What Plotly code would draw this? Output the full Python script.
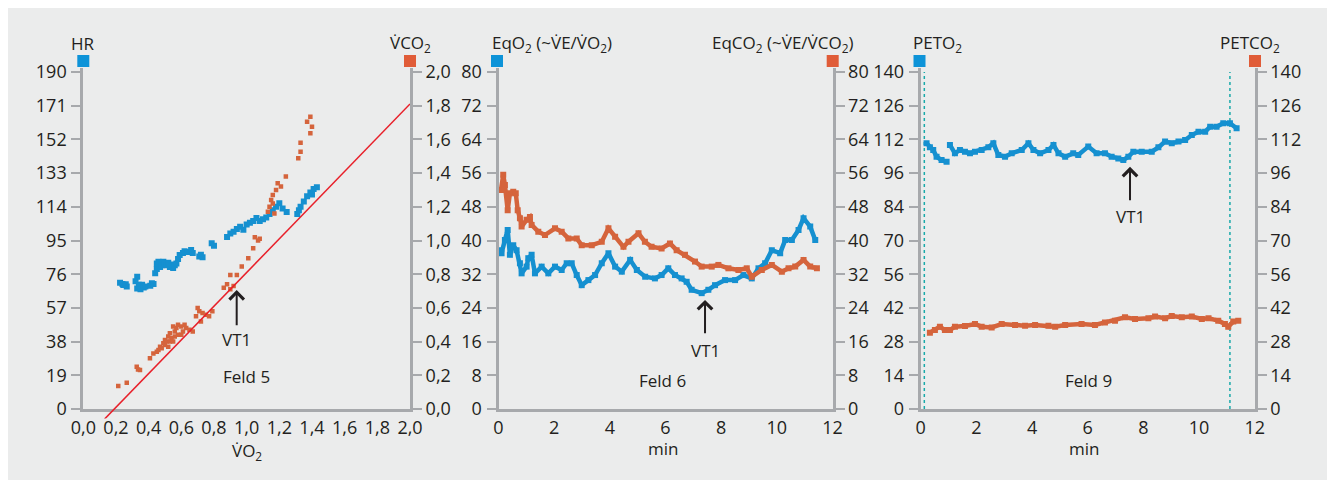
import plotly.graph_objects as go

# page offset of the figure inside the browser window (body margin)
OFF = 8
W, H = 1335 - OFF, 486 - OFF

# ---------------- data ----------------
# Panel 1 (Feld 5): HR vs VO2 and VCO2 vs VO2
hr_vo2 = [0.225, 0.245, 0.266, 0.24, 0.26,
          0.32, 0.33, 0.34, 0.33, 0.35, 0.36, 0.37, 0.38,
          0.42, 0.41, 0.43,
          0.44, 0.45, 0.45, 0.46, 0.47, 0.48, 0.49, 0.50, 0.51, 0.52, 0.53, 0.54, 0.55, 0.56, 0.57, 0.58,
          0.59, 0.61, 0.62, 0.64, 0.66, 0.67,
          0.71, 0.72, 0.73,
          0.786, 0.80,
          0.88, 0.90, 0.92, 0.94, 0.96, 0.98,
          1.00, 1.02, 1.04, 1.06, 1.08, 1.10,
          1.12, 1.14, 1.16, 1.18, 1.20, 1.22, 1.245,
          1.31, 1.32, 1.33, 1.35, 1.37, 1.39, 1.41, 1.43, 1.40]
hr_vals = [71.2, 69.9, 69.0, 70.5, 70.3,
           72.0, 74.6, 70.0, 68.0, 67.5, 70.0, 68.5, 69.0,
           70.9, 69.5, 70.5,
           76.5, 79.0, 82.0, 83.0, 80.0, 81.0, 83.0, 82.0, 81.0, 82.5, 80.0, 81.5, 79.5, 81.0, 82.0, 84.5,
           86.8, 88.0, 89.0, 88.5, 89.6, 88.0,
           86.0, 87.0, 85.5,
           93.4, 92.0,
           97.0, 99.0, 100.0, 101.5, 102.8, 101.0,
           104.0, 105.0, 106.0, 107.7, 106.0, 107.0,
           108.0, 110.0, 112.0, 114.0, 116.0, 113.0, 111.0,
           110.0, 112.0, 114.0, 117.0, 120.0, 122.0, 124.0, 125.0, 121.0]

vco2_vo2 = [0.214, 0.266, 0.327, 0.347, 0.335, 0.408, 0.429,
            0.45, 0.46, 0.47, 0.48, 0.49, 0.50, 0.50, 0.51, 0.52, 0.52, 0.53, 0.54, 0.55, 0.55,
            0.56, 0.57, 0.58, 0.58, 0.60, 0.61, 0.62, 0.63, 0.65, 0.67, 0.53, 0.56, 0.60,
            0.69, 0.70, 0.71, 0.72, 0.73, 0.75, 0.77, 0.79,
            0.86, 0.88, 0.90, 0.92, 0.90, 0.94, 0.97, 1.01, 1.04,
            1.05, 1.07, 1.08,
            1.13, 1.14, 1.15, 1.16, 1.17,
            1.16, 1.18, 1.19, 1.21, 1.24,
            1.316, 1.33, 1.33, 1.39, 1.37, 1.39, 1.40]
vco2_vals = [0.136, 0.156, 0.251, 0.231, 0.235, 0.301, 0.33,
             0.34, 0.35, 0.37, 0.36, 0.39, 0.38, 0.41, 0.40, 0.43, 0.37, 0.45, 0.42, 0.49, 0.40,
             0.46, 0.48, 0.50, 0.44, 0.49, 0.46, 0.50, 0.48, 0.47, 0.46, 0.40, 0.43, 0.44,
             0.55, 0.60, 0.58, 0.52, 0.57, 0.56, 0.55, 0.58,
             0.72, 0.74, 0.71, 0.73, 0.795, 0.795, 0.845, 0.894, 0.954,
             1.02, 1.00, 1.01,
             1.17, 1.20, 1.24, 1.22, 1.16,
             1.27, 1.30, 1.34, 1.32, 1.38,
             1.488, 1.527, 1.58, 1.636, 1.705, 1.735, 1.675]

ref_line_vo2 = [0.13, 2.0]
ref_line_vco2 = [-0.06, 1.81]

# Panel 2 (Feld 6): EqO2 and EqCO2 over time (min)
eqo2_t = [0.05, 0.11, 0.23, 0.33, 0.41, 0.53, 0.65, 0.77, 0.83, 1.01, 1.07, 1.19, 1.31, 1.55, 1.79,
          2.03, 2.27, 2.45, 2.63, 2.81, 2.99, 3.23, 3.47, 3.71, 3.95, 4.19, 4.43, 4.73, 4.97, 5.27,
          5.62, 5.86, 6.10, 6.34, 6.58, 6.76, 6.94, 7.30, 7.54, 7.78, 8.14, 8.50, 8.80, 9.10, 9.34,
          9.58, 9.82, 10.12, 10.30, 10.54, 10.78, 10.96, 11.20, 11.38]
eqo2 = [37.7, 37.0, 40.1, 42.5, 36.6, 38.9, 37.7, 34.6, 32.2, 33.8, 35.8, 36.6, 32.2, 33.8, 32.2,
        33.8, 33.0, 34.6, 34.6, 31.8, 29.4, 30.6, 31.8, 34.6, 37.0, 33.8, 32.6, 35.4, 33.0, 31.4,
        31.0, 31.8, 33.4, 31.8, 31.0, 30.2, 28.3, 27.5, 28.3, 29.4, 30.6, 30.6, 31.8, 31.0, 33.4,
        34.6, 37.7, 37.0, 40.1, 40.1, 42.5, 45.3, 43.3, 40.1]

eqco2_t = [0.09, 0.17, 0.23, 0.33, 0.41, 0.53, 0.62, 0.69, 0.77, 0.83, 1.01, 1.13, 1.19, 1.43, 1.67,
           2.03, 2.27, 2.51, 2.81, 2.99, 3.35, 3.71, 3.95, 4.19, 4.49, 4.67, 5.03, 5.26, 5.50, 5.86,
           6.16, 6.40, 6.70, 7.06, 7.30, 7.66, 7.90, 8.26, 8.62, 8.92, 9.10, 9.46, 9.82, 10.18, 10.42,
           10.66, 10.96, 11.20, 11.44]
eqco2 = [52.0, 55.6, 53.2, 47.2, 51.2, 51.6, 51.2, 47.2, 45.3, 43.3, 44.9, 45.6, 43.7, 42.1, 41.3,
         42.9, 42.1, 40.5, 40.5, 38.9, 38.9, 39.7, 42.9, 40.9, 38.5, 39.7, 41.7, 39.7, 38.5, 38.1,
         39.3, 37.7, 36.6, 35.0, 33.8, 33.8, 34.2, 33.4, 33.0, 33.4, 31.4, 33.0, 34.2, 32.6, 33.4,
         33.8, 35.4, 33.8, 33.4]

# Panel 3 (Feld 9): PETO2 and PETCO2 over time (min)
peto2_t = [0.21, 0.33, 0.45, 0.57, 0.75, 0.93, None, 1.05, 1.23, 1.41, 1.59, 1.77, 1.95, 2.19, 2.43,
           2.61, 2.79, 3.03, 3.27, 3.63, 3.87, 4.05, 4.29, 4.59, 4.77, 4.95, 5.19, 5.48, 5.66, 6.02,
           6.32, 6.62, 6.86, 7.10, 7.28, 7.46, 7.64, 7.94, 8.30, 8.54, 8.78, 9.02, 9.26, 9.50, 9.74,
           9.98, 10.22, 10.40, 10.63, 10.87, 11.11, 11.35]
peto2 = [110.4, 108.7, 107.6, 104.8, 103.4, 102.7, None, 109.7, 106.2, 107.6, 106.9, 106.2, 106.9, 107.6, 108.7,
         110.4, 105.5, 104.8, 106.2, 107.6, 110.4, 107.6, 106.2, 107.6, 109.7, 106.2, 104.8, 106.2, 105.5, 109.0,
         106.2, 106.2, 104.8, 104.1, 103.4, 104.8, 106.9, 106.9, 106.9, 108.7, 111.1, 110.4, 111.1, 111.7, 113.8,
         115.2, 115.2, 117.3, 117.3, 118.7, 118.7, 116.6]

petco2_t = [0.33, 0.51, 0.69, 0.87, 1.05, 1.23, 1.59, 1.95, 2.19, 2.55, 2.91, 3.39, 3.75, 4.11, 4.59,
            4.83, 5.19, 5.78, 6.26, 6.62, 6.98, 7.34, 7.70, 8.18, 8.42, 8.78, 9.02, 9.38, 9.74, 10.10,
            10.34, 10.69, 10.93, 11.05, 11.23, 11.41]
petco2 = [31.7, 32.8, 34.2, 32.8, 32.8, 34.2, 34.5, 35.3, 34.2, 33.9, 35.3, 34.9, 34.6, 34.9, 34.6,
          34.2, 34.9, 35.3, 34.9, 35.9, 36.7, 38.1, 37.4, 37.7, 38.4, 37.7, 38.6, 38.1, 38.4, 37.4,
          37.7, 36.7, 35.3, 34.2, 36.3, 36.7]

phase_marks_t = [0.13, 11.11]

# ticks
vo2_ticks = [0.0, 0.2, 0.4, 0.6, 0.8, 1.0, 1.2, 1.4, 1.6, 1.8, 2.0]
vo2_ticktext = ["0,0", "0,2", "0,4", "0,6", "0,8", "1,0", "1,2", "1,4", "1,6", "1,8", "2,0"]
hr_ticks = [0, 19, 38, 57, 76, 95, 114, 133, 152, 171, 190]
vco2_ticks = [0.0, 0.2, 0.4, 0.6, 0.8, 1.0, 1.2, 1.4, 1.6, 1.8, 2.0]
vco2_ticktext = vo2_ticktext
min_ticks = [0, 2, 4, 6, 8, 10, 12]
eq_ticks = [0, 8, 16, 24, 32, 40, 48, 56, 64, 72, 80]
pet_ticks = [0, 14, 28, 42, 56, 70, 84, 98, 112, 126, 140]
pet_ticktext = ["0", "14", "28", "42", "56", "70", "84", "96", "112", "126", "140"]

# ---------------- styling ----------------
BLUE = "#1590d0"
ORANGE = "#d5643c"
BLUE_SQ = "#0d93d8"
ORANGE_SQ = "#e05c38"
GRAY = "#a7a9ac"
TXT = "#231f20"
BG = "#ebecec"
FONT = "Open Sans, Noto Sans, DejaVu Sans, sans-serif"
FS = 17
TFS = 18


def fx(p):
    return (p - OFF) / W


def fy(p):
    return 1 - (p - OFF) / H


TOP_LINE = 68.0   # axis line top (px, window coords)
TOP_TICK = 72.0   # position of top tick
BOT = 409.0       # axis bottom
ext = (BOT - TOP_LINE) / (BOT - TOP_TICK)

panels = {1: (83.3, 410.0), 2: (498.5, 832.5), 3: (920.7, 1254.7)}

fig = go.Figure()

# Panel 1 traces
fig.add_trace(go.Scatter(x=hr_vo2, y=hr_vals, mode="markers", xaxis="x", yaxis="y",
                         marker=dict(symbol="square", size=6, color=BLUE), hoverinfo="skip"))
fig.add_trace(go.Scatter(x=vco2_vo2, y=vco2_vals, mode="markers", xaxis="x", yaxis="y2",
                         marker=dict(symbol="square", size=4.5, color=ORANGE), hoverinfo="skip"))
fig.add_trace(go.Scatter(x=ref_line_vo2, y=ref_line_vco2, mode="lines", xaxis="x4", yaxis="y7",
                         line=dict(color="#e8202a", width=1.5), hoverinfo="skip"))

LW, MS = 4.5, 6

# Panel 2 traces
fig.add_trace(go.Scatter(x=eqco2_t, y=eqco2, mode="lines+markers", xaxis="x2", yaxis="y4",
                         line=dict(color=ORANGE, width=LW), marker=dict(symbol="square", size=MS, color=ORANGE),
                         hoverinfo="skip"))
fig.add_trace(go.Scatter(x=eqo2_t, y=eqo2, mode="lines+markers", xaxis="x2", yaxis="y3",
                         line=dict(color=BLUE, width=LW), marker=dict(symbol="square", size=MS, color=BLUE),
                         hoverinfo="skip"))

# Panel 3 traces
for t in phase_marks_t:
    fig.add_trace(go.Scatter(x=[t, t], y=[0, 140], mode="lines", xaxis="x3", yaxis="y5",
                             line=dict(color="#17a9a9", width=1.5, dash="dot"), hoverinfo="skip"))
fig.add_trace(go.Scatter(x=peto2_t, y=peto2, mode="lines+markers", xaxis="x3", yaxis="y5",
                         line=dict(color=BLUE, width=LW), marker=dict(symbol="square", size=MS, color=BLUE),
                         connectgaps=False, hoverinfo="skip"))
fig.add_trace(go.Scatter(x=petco2_t, y=petco2, mode="lines+markers", xaxis="x3", yaxis="y6",
                         line=dict(color=ORANGE, width=LW), marker=dict(symbol="square", size=MS, color=ORANGE),
                         hoverinfo="skip"))

tickfont = dict(family=FONT, size=TFS, color=TXT)
ydom = [fy(BOT), fy(TOP_LINE)]


def xax(panel, rng, tv, tt, anchor):
    l, r = panels[panel]
    return dict(domain=[fx(l), fx(r)], range=rng, anchor=anchor, tickvals=tv, ticktext=tt,
                showline=True, linecolor=GRAY, linewidth=3, ticks="", showgrid=False,
                zeroline=False, tickfont=tickfont, ticklabelstandoff=0, fixedrange=True,
                automargin=False)


def yax(vmax, tv, tt, anchor, side, overlaying=None):
    d = dict(range=[0, vmax * ext], anchor=anchor, side=side, tickvals=tv, ticktext=tt,
             showline=True, linecolor=GRAY, linewidth=3, ticks="outside", ticklen=9,
             tickwidth=2, tickcolor=GRAY, showgrid=False, zeroline=False, tickfont=tickfont,
             ticklabelstandoff=1 if side == "left" else 0, fixedrange=True, automargin=False)
    if overlaying:
        d["overlaying"] = overlaying
    else:
        d["domain"] = ydom
    return d


hr_tt = [str(v) for v in hr_ticks]
eq_tt = [str(v) for v in eq_ticks]
min_tt = [str(v) for v in min_ticks]

l1, r1 = panels[1]
low_px = 418.5
y7_min = -2.0 * (low_px - BOT) / (BOT - TOP_TICK)

fig.update_layout(
    template="none",
    width=W, height=H, autosize=False,
    margin=dict(l=0, r=0, t=0, b=0, pad=0),
    paper_bgcolor="white", plot_bgcolor="rgba(0,0,0,0)",
    showlegend=False,
    font=dict(family=FONT, size=FS, color=TXT),
    xaxis=xax(1, [0, 2.0], vo2_ticks, vo2_ticktext, "y"),
    yaxis=yax(190, hr_ticks, hr_tt, "x", "left"),
    yaxis2=yax(2.0, vco2_ticks, vco2_ticktext, "x", "right", overlaying="y"),
    xaxis2=xax(2, [0, 12], min_ticks, min_tt, "y3"),
    yaxis3=yax(80, eq_ticks, eq_tt, "x2", "left"),
    yaxis4=yax(80, eq_ticks, eq_tt, "x2", "right", overlaying="y3"),
    xaxis3=xax(3, [0, 12], min_ticks, min_tt, "y5"),
    yaxis5=yax(140, pet_ticks, pet_ticktext, "x3", "left"),
    yaxis6=yax(140, pet_ticks, pet_ticktext, "x3", "right", overlaying="y5"),
    xaxis4=dict(domain=[fx(l1), fx(r1)], range=[0, 2.0], anchor="y7", visible=False,
                fixedrange=True, automargin=False),
    yaxis7=dict(domain=[fy(low_px), fy(TOP_LINE)], range=[y7_min, 2.0 * ext], anchor="x4",
                visible=False, fixedrange=True, automargin=False),
)

shapes = [dict(type="rect", xref="paper", yref="paper", x0=fx(6), x1=fx(1328), y0=fy(480), y1=fy(7),
               fillcolor=BG, line=dict(width=0), layer="below")]
# series key squares above the axes
for xc, col in [(83.3, BLUE_SQ), (410.0, ORANGE_SQ), (497.0, BLUE_SQ), (832.7, ORANGE_SQ),
                (919.5, BLUE_SQ), (1255.0, ORANGE_SQ)]:
    shapes.append(dict(type="rect", xref="paper", yref="paper", x0=fx(xc - 6), x1=fx(xc + 6),
                       y0=fy(67), y1=fy(55), fillcolor=col, line=dict(width=0)))
fig.update_layout(shapes=shapes)

V = "V\u0307"
ann = []


def label(text, xpx, ypx, xanchor="center"):
    ann.append(dict(text=text, xref="paper", yref="paper", x=fx(xpx), y=fy(ypx), xanchor=xanchor,
                    yanchor="middle", showarrow=False, font=dict(family=FONT, size=FS, color=TXT)))


label("HR", 83, 43)
label(V + "CO<sub>2</sub>", 410, 44)
label("EqO<sub>2</sub> (~" + V + "E/" + V + "O<sub>2</sub>)", 490, 44, "left")
label("EqCO<sub>2</sub> (~" + V + "E/" + V + "CO<sub>2</sub>)", 855, 44, "right")
label("PETO<sub>2</sub>", 911, 44, "left")
label("PETCO<sub>2</sub>", 1250, 44)
label(V + "O<sub>2</sub>", 247, 451)
label("min", 663, 448)
label("min", 1084, 448)


def arrow(x, ytip, ybase, xr, yr):
    ann.append(dict(text="", x=x, y=ytip, ax=x, ay=ybase, xref=xr, yref=yr, axref=xr, ayref=yr,
                    showarrow=True, arrowhead=4, arrowsize=1.4, arrowwidth=2, arrowcolor=TXT))


def dtext(text, x, y, xr, yr):
    ann.append(dict(text=text, x=x, y=y, xref=xr, yref=yr, showarrow=False,
                    font=dict(family=FONT, size=FS, color=TXT)))


arrow(0.939, 0.706, 0.488, "x", "y2")
dtext("VT1", 0.939, 0.41, "x", "y2")
dtext("Feld 5", 1.0, 0.19, "x", "y2")

arrow(7.42, 25.9, 17.6, "x2", "y3")
dtext("VT1", 7.42, 14.0, "x2", "y3")
dtext("Feld 6", 5.9, 6.7, "x2", "y3")

arrow(7.52, 100.6, 86.1, "x3", "y5")
dtext("VT1", 7.52, 79.9, "x3", "y5")
dtext("Feld 9", 6.02, 12.0, "x3", "y5")

fig.update_layout(annotations=ann)

fig.write_html("out.html")
